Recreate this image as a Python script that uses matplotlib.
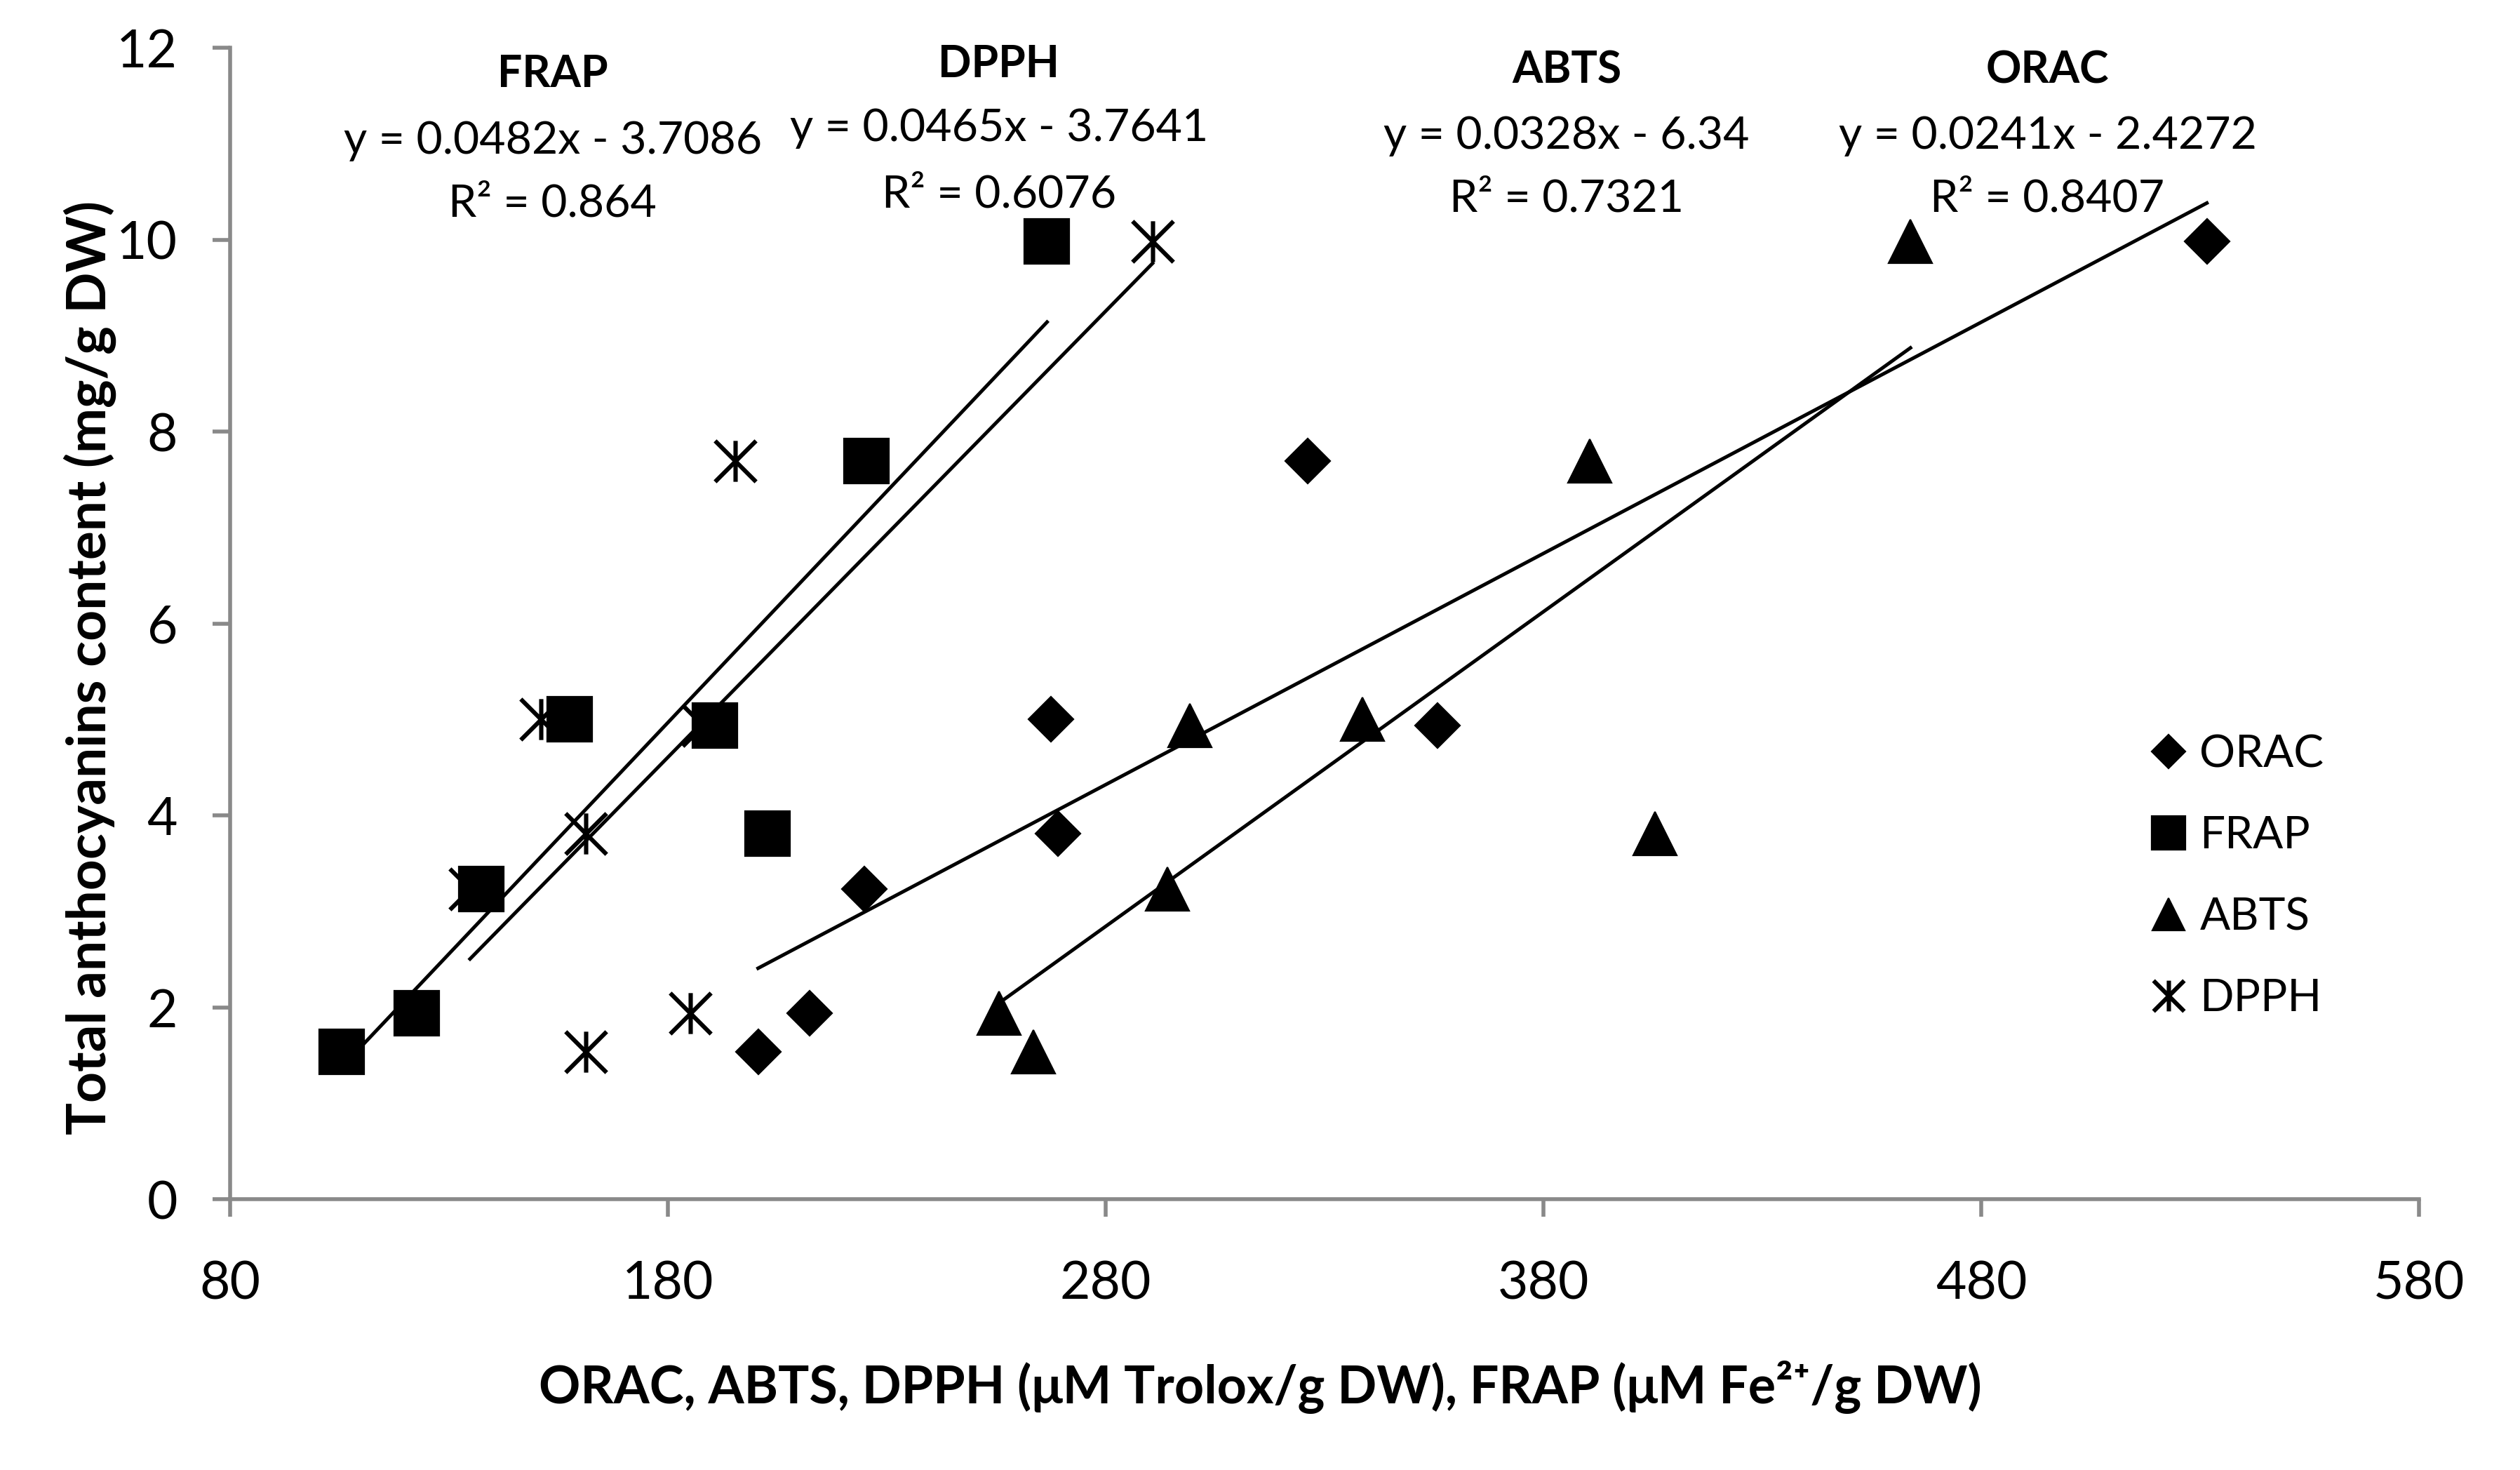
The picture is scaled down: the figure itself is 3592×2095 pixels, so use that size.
# anthocyanin content against antioxidant activity, with linear trendlines per assay
import matplotlib
matplotlib.use('Agg')
import matplotlib.pyplot as plt
import numpy as np
from matplotlib import font_manager
from matplotlib.path import Path


installed: set = {f.name for f in font_manager.fontManager.ttflist}
main_font: str = 'Lato' if 'Lato' in installed else 'DejaVu Sans'

plt.rcParams['font.family'] = [main_font, 'DejaVu Sans']

# total anthocyanins (mg/g DW), one value per sample
anthocyanins: list = [1.54, 1.94, 3.23, 3.81, 4.94, 5.00, 7.69, 9.98]

# antioxidant activity of the same samples
orac: list = [200.6, 212.3, 224.8, 269.1, 355.7, 267.5, 326.1, 531.5]
frap: list = [105.5, 122.6, 137.4, 202.7, 190.8, 157.5, 225.3, 266.6]
abts: list = [263.4, 255.6, 294.1, 405.5, 299.2, 338.6, 390.6, 463.8]
dpph: list = [161.3, 185.1, 134.8, 161.3, 188.0, 151.0, 195.3, 290.7]

# trendline slope, intercept and R^2 as printed on the chart
fit_frap: tuple = (0.0482, -3.7086, '0.864')
fit_dpph: tuple = (0.0465, -3.7641, '0.6076')
fit_abts: tuple = (0.0328, -6.34, '0.7321')
fit_orac: tuple = (0.0241, -2.4272, '0.8407')

x_ticks: list = [80, 180, 280, 380, 480, 580]
y_ticks: list = [0, 2, 4, 6, 8, 10, 12]

grey: str = '#898989'

# asterisk with a vertical bar, like the Excel marker
star_marker: Path = Path(
    [(0, -1), (0, 1), (-1, -1), (1, 1), (-1, 1), (1, -1)],
    [Path.MOVETO, Path.LINETO] * 3,
)

fig = plt.figure(figsize = (17.96, 10.475), dpi = 200)
ax = fig.add_axes([0.0913, 0.1842, 0.8687, 0.7833])

ax.plot(orac, anthocyanins, linestyle = 'none', marker = 'D', ms = 16.3, mew = 0.8,
        color = 'black', label = 'ORAC', zorder = 3)
ax.plot(frap, anthocyanins, linestyle = 'none', marker = 's', ms = 23, mew = 0.8,
        color = 'black', label = 'FRAP', zorder = 3.5)
ax.plot(abts, anthocyanins, linestyle = 'none', marker = '^', ms = 22.5, mew = 0.8,
        color = 'black', label = 'ABTS', zorder = 3)
ax.plot(dpph, anthocyanins, linestyle = 'none', marker = star_marker, ms = 21, mew = 2.2,
        color = 'black', mfc = 'none', label = 'DPPH', zorder = 2.5)

# trendlines over the range of each series
for values, fit in [(frap, fit_frap), (dpph, fit_dpph), (abts, fit_abts), (orac, fit_orac)]:
    x_line: np.ndarray = np.array([min(values), max(values)])
    ax.plot(x_line, fit[0] * x_line + fit[1], color = 'black', lw = 1.8, zorder = 4)

# equation labels
labels: list = [
    ('FRAP', fit_frap, 153.7, (11.59, 10.90, 10.24)),
    ('DPPH', fit_dpph, 255.6, (11.69, 11.03, 10.34)),
    ('ABTS', fit_abts, 385.3, (11.63, 10.95, 10.29)),
    ('ORAC', fit_orac, 495.1, (11.63, 10.95, 10.29)),
]
for name, fit, x_pos, rows in labels:
    sign: str = '-' if fit[1] < 0 else '+'
    ax.text(x_pos, rows[0], name, ha = 'center', va = 'baseline', fontsize = 22.5,
            fontweight = 'bold')
    ax.text(x_pos, rows[1], f'y = {fit[0]:g}x {sign} {abs(fit[1]):g}', ha = 'center',
            va = 'baseline', fontsize = 23.2)
    ax.text(x_pos, rows[2], f'R\u00b2 = {fit[2]}', ha = 'center', va = 'baseline',
            fontsize = 23.2)

ax.set_xlim(80, 580)
ax.set_ylim(0, 12)
ax.set_xticks(x_ticks)
ax.set_yticks(y_ticks)

for side in ['top', 'right']:
    ax.spines[side].set_visible(False)
for side in ['left', 'bottom']:
    ax.spines[side].set_color(grey)
    ax.spines[side].set_linewidth(2)

ax.tick_params(axis = 'both', direction = 'out', length = 9, width = 2, color = grey,
               labelsize = 27, labelcolor = 'black')
ax.tick_params(axis = 'x', pad = 22)
ax.tick_params(axis = 'y', pad = 18)

fig.text(0.5, 0.0453, 'ORAC, ABTS, DPPH (μM Trolox/g DW), FRAP (μM Fe\u00b2\u207a/g DW)',
         ha = 'center', va = 'baseline', fontsize = 26.5, fontweight = 'bold')
fig.text(0.0356, 0.546, 'Total anthocyanins content (mg/g DW)', rotation = 90,
         ha = 'center', va = 'center', fontsize = 27.6, fontweight = 'bold')

ax.legend(loc = 'upper left', bbox_to_anchor = (0.8533, 0.5007),
          bbox_transform = fig.transFigure, frameon = False, fontsize = 23,
          markerscale = 0.75, handlelength = 0.8, handletextpad = 0.3,
          labelspacing = 0.91, borderpad = 0, borderaxespad = 0)

fig.savefig('out.png', dpi = 200, facecolor = 'white')
